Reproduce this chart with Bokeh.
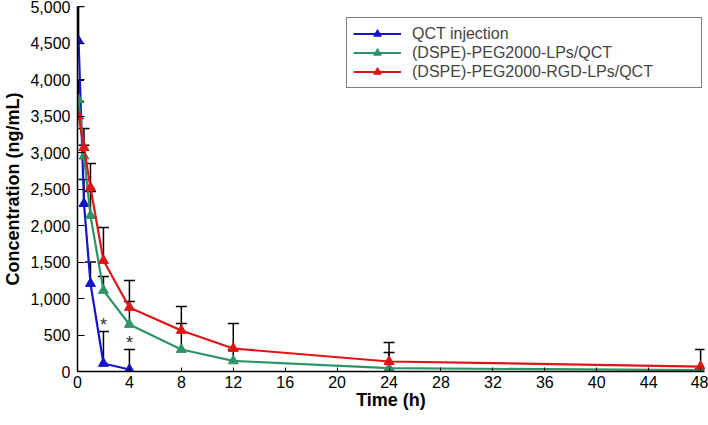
from bokeh.plotting import figure
from bokeh.models import Range1d, FixedTicker, NumeralTickFormatter, Legend, LegendItem, ColumnDataSource, Whisker
from bokeh.embed import file_html
from bokeh.resources import INLINE

# Time points (h)
t_qct = [0.083, 0.5, 1, 2, 4]
t_lp = [0.083, 0.5, 1, 2, 4, 8, 12, 24, 48]

# Mean concentrations (ng/mL)
qct_mean = [4530, 2300, 1205, 110, 27]
peg_mean = [3720, 2950, 2137, 1110, 644, 301, 145, 45, 18]
rgd_mean = [3500, 3068, 2520, 1520, 877, 562, 315, 137, 68]

# Upper error-bar ends (ng/mL)
qct_upper = [5000, 2630, 1500, 548, 301]
peg_upper = [3990, 3100, 2466, 1300, 960, 657, 300, 260, 40]
rgd_upper = [3700, 3330, 2850, 1973, 1247, 890, 657, 397, 301]

# Significance marks
star_t = [2, 4]
star_y = [640, 390]

y_ticks = [0, 500, 1000, 1500, 2000, 2500, 3000, 3500, 4000, 4500, 5000]
x_ticks = [0, 4, 8, 12, 16, 20, 24, 28, 32, 36, 40, 44, 48]

series = [
    ("QCT injection", t_qct, qct_mean, qct_upper, "#1414c8"),
    ("(DSPE)-PEG2000-LPs/QCT", t_lp, peg_mean, peg_upper, "#2e9468"),
    ("(DSPE)-PEG2000-RGD-LPs/QCT", t_lp, rgd_mean, rgd_upper, "#e01414"),
]

FONT = "Liberation Sans"

p = figure(width=708, height=425, output_backend="svg", toolbar_location=None,
           x_range=Range1d(0, 48.3), y_range=Range1d(0, 5000),
           min_border_left=77, min_border_bottom=54, min_border_top=6, min_border_right=4)
p.outline_line_color = None
p.grid.grid_line_color = None

p.xaxis.ticker = FixedTicker(ticks=x_ticks)
p.yaxis.ticker = FixedTicker(ticks=y_ticks)
p.yaxis.formatter = NumeralTickFormatter(format="0,0")
for ax in (p.xaxis, p.yaxis):
    ax.axis_line_color = "black"
    ax.axis_line_width = 1.5
    ax.major_tick_line_color = "black"
    ax.major_tick_line_width = 1
    ax.minor_tick_line_color = None
    ax.major_tick_out = 0
    ax.major_label_text_font = FONT
    ax.major_label_text_font_size = "16px"
    ax.major_label_text_color = "black"
    ax.axis_label_text_font = FONT
    ax.axis_label_text_font_style = "bold"
    ax.axis_label_text_font_size = "18px"
    ax.axis_label_text_color = "black"
p.xaxis.major_tick_in = 4
p.yaxis.major_tick_in = 7
p.xaxis.axis_label = "Time (h)"
p.yaxis.axis_label = "Concentration (ng/mL)"
p.xaxis.major_label_standoff = 4
p.yaxis.major_label_standoff = 7
p.xaxis.axis_label_standoff = -1
p.yaxis.axis_label_standoff = 4

# error bars (upper only)
for name, t, m, up, col in series:
    src = ColumnDataSource(dict(x=t, lo=m, hi=up))
    w = Whisker(source=src, base="x", lower="lo", upper="hi", dimension="height",
                line_color="black", line_width=1.5)
    w.upper_head.size = 11
    w.upper_head.line_color = "black"
    w.upper_head.line_width = 1.5
    w.lower_head = None
    p.add_layout(w)

items = []
for name, t, m, up, col in series:
    r1 = p.line(t, m, line_color=col, line_width=2.2)
    r2 = p.scatter(t, m, marker="triangle", size=10, fill_color=col, line_color=col)
    items.append(LegendItem(label=name, renderers=[r1, r2]))

p.text(star_t, star_y, text=["*", "*"], text_align="center", text_baseline="middle",
       text_font_size="18px", text_color="#333333")

legend = Legend(items=items, location=(269, 283), border_line_color="black",
                border_line_width=1, label_text_font=FONT, label_text_font_size="16px",
                glyph_width=48, glyph_height=19, label_height=19, label_width=283,
                spacing=0, padding=6, margin=0, label_standoff=11,
                background_fill_alpha=1)
p.add_layout(legend)

open("out.html", "w").write(file_html(p, INLINE))
